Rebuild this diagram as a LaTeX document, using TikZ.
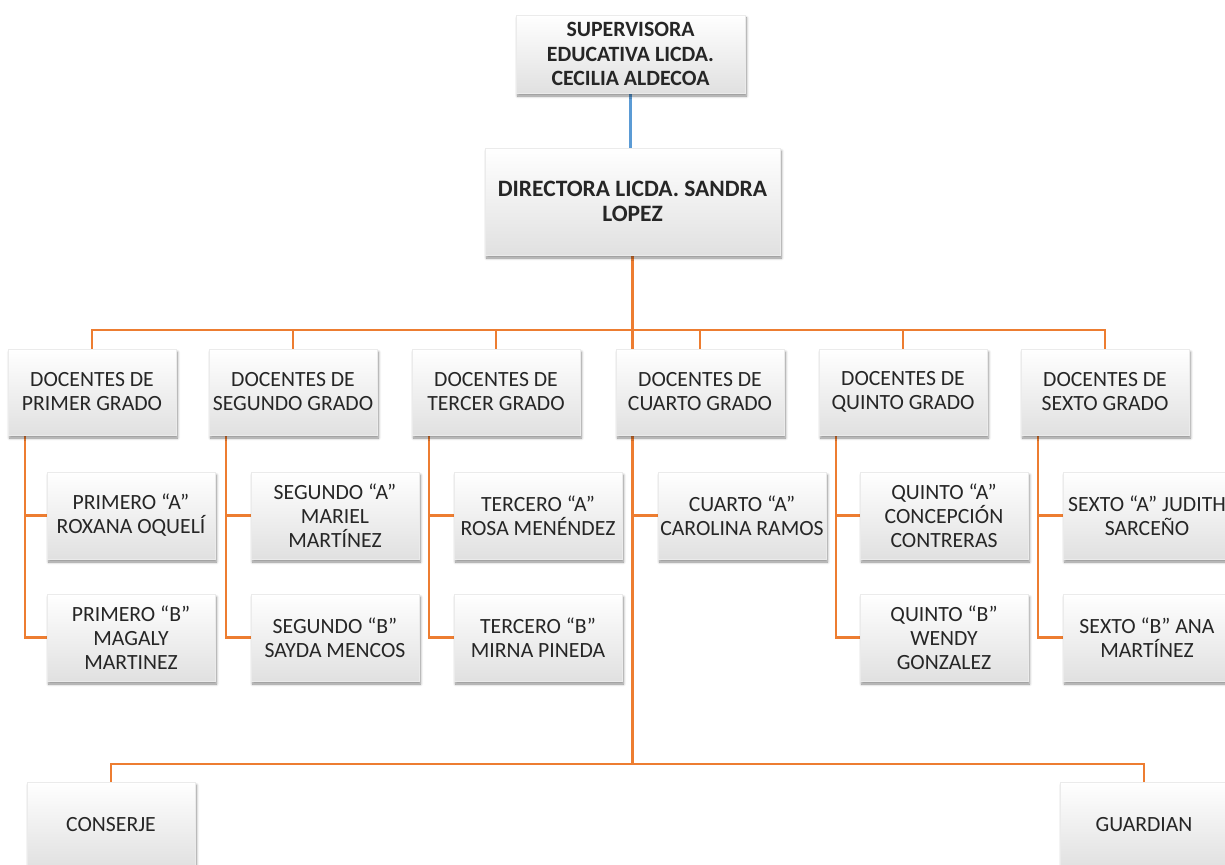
\documentclass[tikz,border=0pt]{standalone}
\usepackage{fontspec}
\setmainfont{Carlito}
\usetikzlibrary{shadows.blur,calc}
\definecolor{org}{HTML}{ED7D31}
\definecolor{blu}{HTML}{5B9BD5}
\pgfdeclarelayer{bg}
\pgfsetlayers{bg,main}
\tikzset{
 box/.style={rectangle, top color=white, bottom color=black!12, draw=black!8, line width=0.4pt,
   minimum width=168pt, minimum height=86pt, align=center, inner sep=2pt,
   font=\fontsize{21.7}{24}\selectfont, text=black!85,
   blur shadow={shadow xshift=1.5pt, shadow yshift=-3pt, shadow opacity=45, shadow blur steps=6, shadow blur radius=2.5pt}},
 topbox/.style={box, font=\fontsize{21.8}{24.5}\selectfont\bfseries},
 conn/.style={draw=org, line width=2.2pt},
}
\begin{document}
\begin{tikzpicture}[x=1pt,y=-1pt]
\useasboundingbox (0,0) rectangle (1225,864);
\clip (0,0) rectangle (1225,864);
% top
\node[topbox, minimum width=229pt, minimum height=78pt] (sup) at (630.5,54) {SUPERVISORA\\EDUCATIVA LICDA.\\CECILIA ALDECOA};
\node[topbox, minimum width=295pt, minimum height=107pt, font=\fontsize{23.5}{25}\selectfont\bfseries] (dir) at (632.5,201.5) {DIRECTORA LICDA. SANDRA\\LOPEZ};
% docentes
\node[box] (d1) at (92,392) {DOCENTES DE\\PRIMER GRADO};
\node[box] (d2) at (293,392) {DOCENTES DE\\SEGUNDO GRADO};
\node[box] (d3) at (496,392) {DOCENTES DE\\TERCER GRADO};
\node[box] (d4) at (700,392) {DOCENTES DE\\CUARTO GRADO};
\node[box] (d5) at (903,392) {DOCENTES DE\\QUINTO GRADO};
\node[box] (d6) at (1105,392) {DOCENTES DE\\SEXTO GRADO};
% grade A
\node[box, minimum height=87pt] (a1) at (131,515.5) {PRIMERO “A”\\ROXANA OQUELÍ};
\node[box, minimum height=87pt] (a2) at (335,515.5) {SEGUNDO “A”\\MARIEL\\MARTÍNEZ};
\node[box, minimum height=87pt] (a3) at (538,515.5) {TERCERO “A”\\ROSA MENÉNDEZ};
\node[box, minimum height=87pt] (a4) at (742,515.5) {CUARTO “A”\\CAROLINA RAMOS};
\node[box, minimum height=87pt] (a5) at (944,515.5) {QUINTO “A”\\CONCEPCIÓN\\CONTRERAS};
\node[box, minimum height=87pt] (a6) at (1147,515.5) {SEXTO “A” JUDITH\\SARCEÑO};
% grade B
\node[box, minimum height=87pt] (b1) at (131,637.5) {PRIMERO “B”\\MAGALY\\MARTINEZ};
\node[box, minimum height=87pt] (b2) at (335,637.5) {SEGUNDO “B”\\SAYDA MENCOS};
\node[box, minimum height=87pt] (b3) at (538,637.5) {TERCERO “B”\\MIRNA PINEDA};
\node[box, minimum height=87pt] (b5) at (944,637.5) {QUINTO “B”\\WENDY\\GONZALEZ};
\node[box, minimum height=87pt] (b6) at (1147,637.5) {SEXTO “B” ANA\\MARTÍNEZ};
% bottom
\node[box] (cons) at (111,825) {CONSERJE};
\node[box] (guard) at (1144,825) {GUARDIAN};
\begin{pgfonlayer}{bg}
\draw[draw=blu, line width=2.2pt] (sup.south) -- (sup.south |- dir.north);
\draw[conn] (dir.south) -- ++(0,75) coordinate (bar);
\foreach \n in {d1,d2,d3,d4,d5,d6} \draw[conn] (bar) -| (\n.north);
\coordinate (low) at (632.5,764);
\draw[conn] (bar) -- (low);
\draw[conn] (cons.north) |- (low) -| (guard.north);
\foreach \k in {1,2,3,5,6} {
  \coordinate (s\k) at ($(d\k.south west)+(17,0)$);
  \draw[conn] (s\k) |- (a\k.west);
  \draw[conn] (s\k) |- (b\k.west);
}
\coordinate (s4) at ($(d4.south west)+(17,0)$);
\draw[conn] (s4) |- (a4.west);
\end{pgfonlayer}
\end{tikzpicture}
\end{document}
